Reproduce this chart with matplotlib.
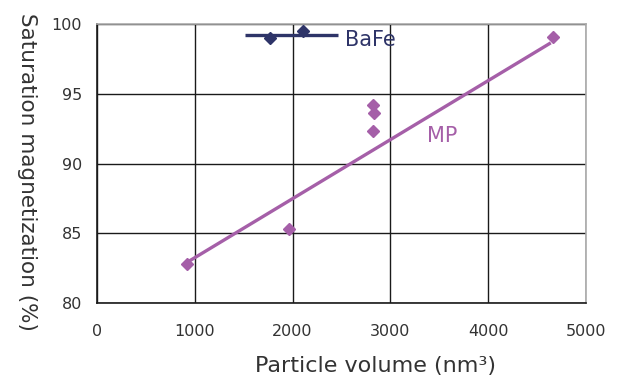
import matplotlib
matplotlib.use("Agg")
import matplotlib.pyplot as plt

# ── Data ──
bafe_x = [1770, 2110]
bafe_y = [98.97, 99.52]
bafe_fit_x = [1515, 2460]
bafe_fit_y = [99.2, 99.2]

mp_x = [915, 1966, 2826, 2833, 2823, 4662]
mp_y = [82.82, 85.3, 94.22, 93.65, 92.36, 99.09]
mp_fit_x = [915, 4640]
mp_fit_y = [82.9, 98.65]

xticks = [0, 1000, 2000, 3000, 4000, 5000]
yticks = [80, 85, 90, 95, 100]

c_bafe = "#2E3468"
c_mp = "#A55FA8"
c_text = "#333333"

plt.rcParams["font.family"] = ["DejaVu Sans"]

fig = plt.figure(figsize=(6.35, 3.78), dpi=100)
ax = fig.add_axes([0.1528, 0.198, 0.770, 0.7385])

ax.plot(bafe_fit_x, bafe_fit_y, color=c_bafe, lw=2.4, solid_capstyle="butt", zorder=3)
ax.plot(bafe_x, bafe_y, ls="none", marker="D", ms=6.5, color=c_bafe, zorder=4)
ax.plot(mp_fit_x, mp_fit_y, color=c_mp, lw=2.4, solid_capstyle="butt", zorder=3)
ax.plot(mp_x, mp_y, ls="none", marker="D", ms=6.5, color=c_mp, zorder=4)

ax.text(2540, 98.85, "BaFe", color=c_bafe, fontsize=15, va="center", ha="left")
ax.text(3370, 91.98, "MP", color=c_mp, fontsize=15, va="center", ha="left")

ax.set_xlim(0, 5000)
ax.set_ylim(80, 100)
ax.set_xticks(xticks)
ax.set_yticks(yticks)
ax.tick_params(length=0, labelsize=11.5, labelcolor=c_text)
ax.tick_params(axis="y", pad=11)
ax.tick_params(axis="x", pad=15)
ax.grid(True, color="#1a1a1a", lw=1.0)
ax.set_axisbelow(True)

for s in ["left", "bottom"]:
    ax.spines[s].set_color("#1a1a1a")
    ax.spines[s].set_linewidth(1.2)
for s in ["top", "right"]:
    ax.spines[s].set_color("#aaaaaa")
    ax.spines[s].set_linewidth(1.2)

ax.set_xlabel("Particle volume (nm³)", fontsize=16, color=c_text, va="center")
ax.xaxis.set_label_coords(0.569, -0.225)
ax.set_ylabel("Saturation magnetization (%)", fontsize=15.5, color=c_text,
              rotation=270, va="center")
ax.yaxis.set_label_coords(-0.143, 0.47)

fig.savefig("out.png", dpi=100, facecolor="white")
